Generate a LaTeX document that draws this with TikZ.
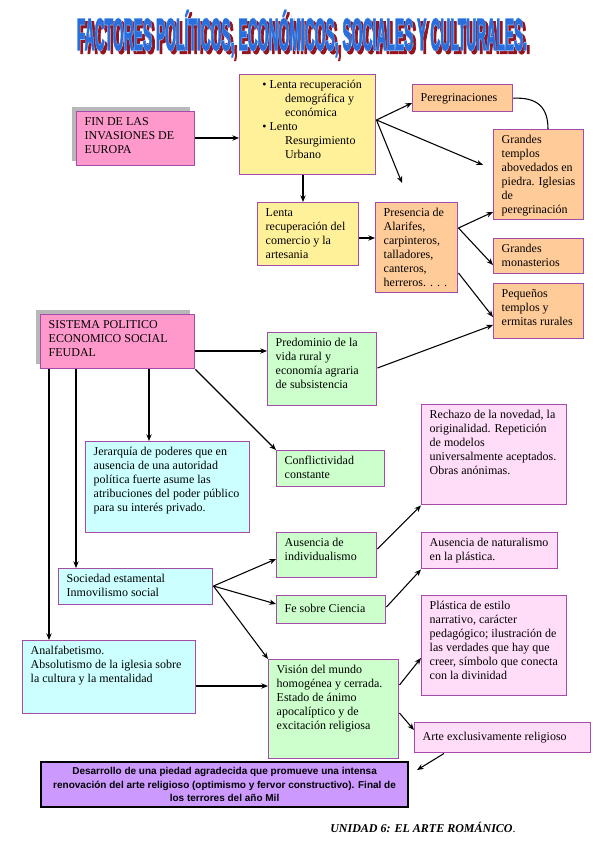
\documentclass[tikz,border=0pt]{standalone}
\usepackage{fontspec}
\setmainfont{Liberation Serif}
\newfontfamily\sansf{Liberation Sans}
\newfontfamily\titlehalo[FakeBold=5]{Liberation Sans Bold}
\newfontfamily\titlemain[FakeBold=2]{Liberation Sans Bold}
\usepackage{graphicx}
\usetikzlibrary{arrows.meta,shadows,calc}
\definecolor{bord}{RGB}{165,75,170}
\definecolor{pinkF}{HTML}{FF99CC}
\definecolor{yelF}{HTML}{FFF199}
\definecolor{orF}{HTML}{FFCC99}
\definecolor{grF}{HTML}{CCFFCC}
\definecolor{cyF}{HTML}{CCFFFF}
\definecolor{lpF}{HTML}{FFDDF8}
\definecolor{purF}{HTML}{CC99FF}
\definecolor{titred}{RGB}{150,20,30}
\definecolor{titlight}{RGB}{150,200,255}
\definecolor{titblue}{RGB}{40,110,220}
\newcommand\flowbox[8]{%
  \pgfmathsetmacro\bw{(#4-#2)*0.75-12}%
  \pgfmathsetmacro\bh{(#5-#3)*0.75-6}%
  \node[cbox,#6] (#1) at (#2,#3) {\parbox[c][\bh pt][#7]{\bw pt}{\begin{tabular}[t]{@{}l@{}}#8\end{tabular}}};}
\newcommand\titletext{FACTORES POLÍTICOS, ECONÓMICOS, SOCIALES Y CULTURALES.}
\begin{document}
\begin{tikzpicture}[x=0.75pt,y=-0.75pt,
  cbox/.style={draw=bord, line width=1.1pt, anchor=north west, inner xsep=6pt, inner ysep=3pt, font=\fontsize{9}{10.5}\selectfont},
  arr/.style={-{Stealth[length=5pt,width=4pt]}, line width=0.8pt},
  plain/.style={line width=0.8pt},
  shd/.style={drop shadow={shadow xshift=-3.5pt, shadow yshift=3.75pt, fill=black!28, opacity=1}}]
\fill[white] (0,0) rectangle (599,848);
\useasboundingbox (0,0) rectangle (599,848);

% title
\node[anchor=base, inner sep=0pt, text=titred] (tshadow) at (305,53) {\scalebox{0.52}[1.68]{\titlehalo\fontsize{20}{20}\selectfont\titletext}};
\node[anchor=base, inner sep=0pt, text=titlight] (thalo) at (302,50) {\scalebox{0.52}[1.68]{\titlehalo\fontsize{20}{20}\selectfont\titletext}};
\node[anchor=base, inner sep=0pt, text=titblue] (tmain) at (302,50) {\scalebox{0.52}[1.68]{\titlemain\fontsize{20}{20}\selectfont\titletext}};

% boxes
\flowbox{fin}{76}{111}{194}{165}{fill=pinkF,shd}{t}{FIN DE LAS\\ INVASIONES DE\\ EUROPA}
\flowbox{y1}{239}{74}{375}{174}{fill=yelF}{t}{\hspace{11pt}\textbullet\ Lenta recuperación\\ \hspace{28pt}demográfica y\\ \hspace{28pt}económica\\ \hspace{11pt}\textbullet\ Lento\\ \hspace{28pt}Resurgimiento\\ \hspace{28pt}Urbano}
\flowbox{y2}{257}{202}{358}{265}{fill=yelF}{t}{Lenta\\ recuperación del\\ comercio y la\\ artesania}
\flowbox{pres}{375}{202}{457}{292}{fill=orF}{t}{Presencia de\\ Alarifes,\\ carpinteros,\\ talladores,\\ canteros,\\ herreros. . . .}
\flowbox{per}{412}{84}{512}{111}{fill=orF}{c}{Peregrinaciones}
\flowbox{gt}{493}{129}{583}{219}{fill=orF}{t}{Grandes\\ templos\\ abovedados en\\ piedra. Iglesias\\ de\\ peregrinación}
\flowbox{gm}{493}{238}{583}{273}{fill=orF}{t}{Grandes\\ monasterios}
\flowbox{pt}{493}{283}{583}{338}{fill=orF}{t}{Pequeños\\ templos y\\ ermitas rurales}
\flowbox{sis}{40}{314}{194}{368}{fill=pinkF,shd}{t}{SISTEMA POLITICO\\ ECONOMICO SOCIAL\\ FEUDAL}
\flowbox{pred}{267}{332}{376}{405}{fill=grF}{t}{Predominio de la\\ vida rural y\\ economía agraria\\ de subsistencia}
\flowbox{jer}{85}{441}{249}{532}{fill=cyF}{t}{Jerarquía de poderes que en\\ ausencia de una autoridad\\ política fuerte asume las\\ atribuciones del poder público\\ para su interés privado.}
\flowbox{conf}{276}{450}{384}{486}{fill=grF}{t}{Conflictividad\\ constante}
\flowbox{rech}{421}{404}{566}{504}{fill=lpF}{t}{Rechazo de la novedad, la\\ originalidad. Repetición\\ de modelos\\ universalmente aceptados.\\ Obras anónimas.}
\flowbox{aind}{276}{532}{376}{577}{fill=grF}{t}{Ausencia de\\ individualismo}
\flowbox{nat}{421}{532}{557}{568}{fill=lpF}{t}{Ausencia de naturalismo\\ en la plástica.}
\flowbox{soc}{58}{568}{212}{604}{fill=cyF}{t}{Sociedad estamental\\ Inmovilismo social}
\flowbox{fe}{276}{595}{385}{623}{fill=grF}{c}{Fe sobre Ciencia}
\flowbox{plas}{421}{595}{566}{695}{fill=lpF}{t}{Plástica de estilo\\ narrativo, carácter\\ pedagógico; ilustración de\\ las verdades que hay que\\ creer, símbolo que conecta\\ con la divinidad}
\flowbox{an}{22}{640}{195}{713}{fill=cyF}{t}{Analfabetismo.\\ Absolutismo de la iglesia sobre\\ la cultura y la mentalidad}
\flowbox{vis}{268}{659}{398}{758}{fill=grF}{t}{Visión del mundo\\ homogénea y cerrada.\\ Estado de ánimo\\ apocalíptico y de\\ excitación religiosa}
\flowbox{arte}{414}{722}{590}{752}{fill=lpF}{c}{Arte exclusivamente religioso}

\node[draw=black, line width=1.6pt, fill=purF, anchor=north west, minimum width=275.25pt, minimum height=33.75pt, inner sep=0pt] (des) at (40,761)
 {\parbox{270pt}{\centering\sansf\bfseries\fontsize{7.5}{10}\selectfont Desarrollo de una piedad agradecida que promueve una intensa\\ renovación del arte religioso (optimismo y fervor constructivo). Final de\\ los terrores del año Mil}};

\node[anchor=base west, inner sep=0pt, font=\fontsize{9}{10}\selectfont] (foot) at (330,832) {\textbf{\textit{UNIDAD 6: EL ARTE ROMÁNICO}}.};

% connectors
\coordinate (f1) at (483,165);
\coordinate (f2) at (402,183);
\coordinate (f3) at (417,770);
\draw[arr] (fin.east |- 0,138) -- (y1.west |- 0,138);
\draw[arr] (y1.south -| 303,0) -- (y2.north -| 303,0);
\draw[arr] (y2.east |- 0,238) -- (pres.west |- 0,238);
\draw[arr] (y1.east |- 0,120) -- (per.west |- 0,103);
\draw[arr] (y1.east |- 0,120) -- (f1);
\draw[arr] (y1.east |- 0,120) -- (f2);
\draw[plain] (per.east) .. controls (538,97) and (548,108) .. (gt.north -| 548,0);
\draw[arr] (pres.east |- 0,228) -- (gt.west |- 0,212);
\draw[arr] (pres.east |- 0,228) -- (gm.west |- 0,265);
\draw[arr] (pres.east |- 0,273) -- (pt.west |- 0,317);
\draw[arr] (pred.east |- 0,368) -- (pt.west |- 0,325);
\draw[arr] (sis.east |- 0,351) -- (pred.west |- 0,351);
\draw[arr] (sis.south -| 149,0) -- (jer.north -| 149,0);
\draw[arr] (sis.south east) -- (conf.north west);
\draw[arr] (sis.south -| 49,0) -- (an.north -| 49,0);
\draw[arr] (sis.south -| 76,0) -- (soc.north -| 76,0);
\draw[arr] (soc.east |- 0,586) -- (aind.west |- 0,559);
\draw[arr] (soc.east |- 0,586) -- (fe.west |- 0,604);
\draw[arr] (soc.east |- 0,586) -- (vis.north west);
\draw[arr] (an.east |- 0,686) -- (vis.west |- 0,686);
\draw[arr] (aind.east |- 0,549) -- (rech.south west);
\draw[arr] (fe.east |- 0,607) -- (nat.south west);
\draw[arr] (vis.east |- 0,685) -- (plas.west |- 0,658);
\draw[arr] (vis.east |- 0,713) -- (arte.west |- 0,730);
\draw[arr] (arte.south -| 444,0) -- (f3);
\end{tikzpicture}
\end{document}
